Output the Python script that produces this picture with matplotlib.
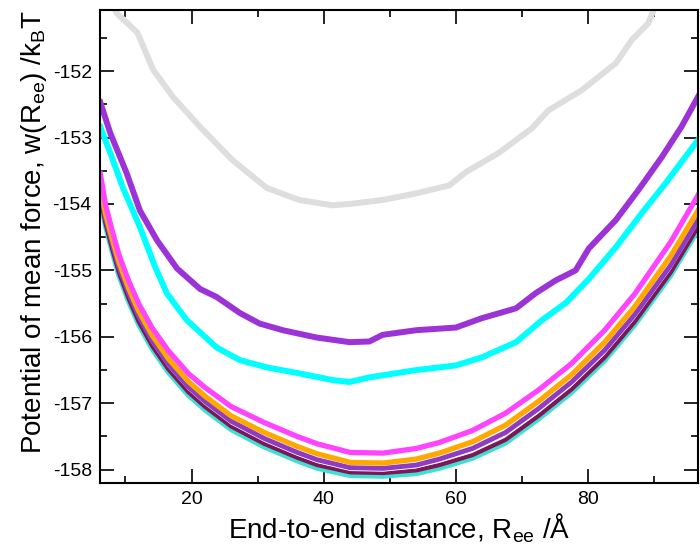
import matplotlib
matplotlib.use("Agg")
import matplotlib.pyplot as plt
from matplotlib.ticker import MultipleLocator

plt.rcParams["font.family"] = ["Liberation Sans", "DejaVu Sans"]
plt.rcParams["mathtext.default"] = "regular"
plt.rcParams["axes.unicode_minus"] = False

# =========================
# DATA
# =========================

gray_x = [7.5, 8.7, 11.8, 14.2, 17.2, 21.3, 26.2, 31.4, 36.3, 41.3, 43.9, 48.9,
          54.0, 59.0, 61.5, 66.5, 71.5, 74.0, 79.0, 84.2, 86.6, 89.1, 89.9, 92.0]
gray_y = [-150.90, -151.13, -151.42, -151.98, -152.39, -152.84, -153.34, -153.76,
          -153.94, -154.02, -154.00, -153.94, -153.84, -153.72, -153.52, -153.23,
          -152.86, -152.59, -152.29, -151.88, -151.53, -151.28, -151.08, -150.80]

violet_x = [6.2, 7.7, 10.2, 12.2, 14.8, 17.8, 21.3, 23.8, 27.3, 30.3, 33.8,
            38.9, 43.9, 46.9, 48.9, 54.0, 60.0, 63.9, 69.1, 72.1, 75.1, 78.1,
            80.1, 84.2, 87.6, 91.1, 94.1, 96.6]
violet_y = [-152.47, -152.93, -153.54, -154.10, -154.55, -154.97, -155.28,
            -155.40, -155.64, -155.80, -155.90, -156.01, -156.08, -156.07, -155.97,
            -155.90, -155.86, -155.72, -155.57, -155.34, -155.15, -155.00, -154.67,
            -154.24, -153.79, -153.30, -152.84, -152.39]

cyan_x = [6.2, 7.7, 9.6, 12.2, 14.5, 16.3, 19.3, 23.8, 27.3, 31.4, 36.3, 41.3,
          43.9, 46.9, 54.0, 60.0, 63.9, 69.1, 73.0, 76.6, 80.1, 84.2, 88.1, 91.7,
          96.6]
cyan_y = [-152.84, -153.23, -153.75, -154.35, -154.95, -155.35, -155.75, -156.16,
          -156.35, -156.46, -156.55, -156.65, -156.68, -156.61, -156.50, -156.43,
          -156.31, -156.08, -155.75, -155.49, -155.13, -154.65, -154.14, -153.69,
          -153.04]

# bottom bundle shares one x grid
bundle_x = [6.2, 7.0, 8.0, 9.0, 10.5, 12.0, 14.0, 16.5, 19.5, 22.0, 26.0, 31.0,
            36.0, 39.0, 44.0, 49.0, 54.0, 57.5, 62.5, 67.5, 72.5, 77.5, 82.5,
            87.0, 92.5, 96.6]
magenta_y = [-153.54, -154.02, -154.40, -154.76, -155.16, -155.50, -155.86, -156.21,
             -156.55, -156.76, -157.05, -157.29, -157.50, -157.61, -157.74, -157.75,
             -157.68, -157.59, -157.41, -157.15, -156.80, -156.40, -155.90, -155.36,
             -154.57, -153.87]
orange_y = [-153.75, -154.15, -154.52, -154.87, -155.27, -155.61, -155.97, -156.33,
            -156.67, -156.89, -157.19, -157.44, -157.65, -157.76, -157.89, -157.90,
            -157.84, -157.75, -157.58, -157.33, -156.97, -156.57, -156.08, -155.55,
            -154.78, -154.10]
purple_y = [-153.82, -154.22, -154.60, -154.95, -155.35, -155.69, -156.05, -156.41,
            -156.75, -156.97, -157.27, -157.53, -157.74, -157.85, -157.97, -157.98,
            -157.93, -157.84, -157.68, -157.44, -157.08, -156.68, -156.20, -155.67,
            -154.92, -154.24]
white_y = [-153.86, -154.26, -154.64, -154.99, -155.39, -155.73, -156.09, -156.45,
           -156.79, -157.01, -157.31, -157.57, -157.78, -157.89, -158.01, -158.02,
           -157.97, -157.88, -157.73, -157.49, -157.13, -156.73, -156.25, -155.72,
           -154.97, -154.29]
maroon_y = [-153.90, -154.30, -154.68, -155.03, -155.43, -155.77, -156.13, -156.49,
            -156.83, -157.05, -157.35, -157.61, -157.82, -157.93, -158.04, -158.05,
            -158.01, -157.93, -157.78, -157.55, -157.19, -156.79, -156.31, -155.78,
            -155.03, -154.35]
turquoise_y = [-153.95, -154.35, -154.73, -155.08, -155.48, -155.82, -156.18, -156.54,
               -156.88, -157.10, -157.40, -157.66, -157.87, -157.98, -158.09, -158.10,
               -158.06, -157.98, -157.83, -157.60, -157.24, -156.84, -156.36, -155.83,
               -155.08, -154.40]

# =========================
# PLOT
# =========================

fig = plt.figure(figsize=(7.0, 5.46), dpi=100)
ax = fig.add_axes([0.143, 0.1154, 0.854, 0.8663])

ax.plot(gray_x, gray_y, color="#dedede", lw=4.3, solid_joinstyle="round")
ax.plot(violet_x, violet_y, color="#9c33d6", lw=4.3, solid_joinstyle="round")
ax.plot(cyan_x, cyan_y, color="#00ffff", lw=4.3, solid_joinstyle="round")
ax.plot(bundle_x, turquoise_y, color="#40e0d0", lw=3.5, solid_joinstyle="round")
ax.plot(bundle_x, maroon_y, color="#7a1858", lw=3.0, solid_joinstyle="round")
ax.plot(bundle_x, white_y, color="white", lw=1.0)
ax.plot(bundle_x, purple_y, color="#8e3cc6", lw=3.5, solid_joinstyle="round")
ax.plot(bundle_x, orange_y, color="#ffa800", lw=3.8, solid_joinstyle="round")
ax.plot(bundle_x, magenta_y, color="#ff44ff", lw=3.8, solid_joinstyle="round")

ax.set_xlim(6.17, 96.6)
ax.set_ylim(-158.2, -151.08)

ax.xaxis.set_major_locator(MultipleLocator(20))
ax.xaxis.set_minor_locator(MultipleLocator(10))
ax.yaxis.set_major_locator(MultipleLocator(1))
ax.yaxis.set_minor_locator(MultipleLocator(0.5))

ax.tick_params(which="both", direction="in", top=True, right=True,
               labelsize=14, pad=6, width=1.2)
ax.tick_params(which="major", length=10)
ax.tick_params(which="minor", length=5)
for side in ax.spines.values():
    side.set_linewidth(1.5)

ax.set_xlabel("End-to-end distance, R$_{ee}$ /Å", fontsize=20, labelpad=2)
ax.set_ylabel("Potential of mean force, w(R$_{ee}$) /k$_{B}$T", fontsize=20,
              labelpad=8)
ax.yaxis.set_label_coords(-0.085, 0.53)

fig.savefig("out.png", dpi=100)
plt.close(fig)
